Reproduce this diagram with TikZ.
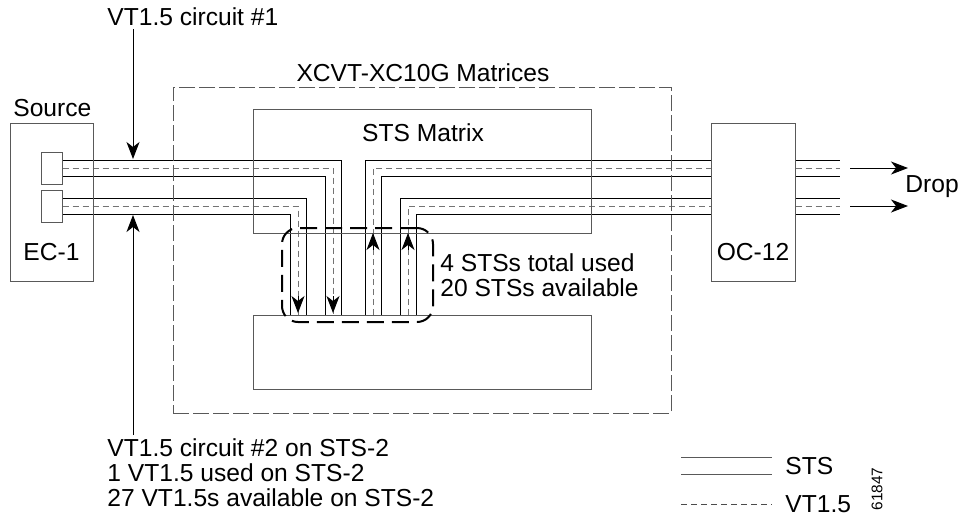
\documentclass[tikz,border=0pt]{standalone}
\usepackage{fontspec}
\setmainfont{Liberation Sans}
\usetikzlibrary{positioning, arrows.meta, backgrounds}

\definecolor{boxgray}{gray}{0.35}
\definecolor{vtgray}{gray}{0.45}

\tikzset{
  box/.style={draw=boxgray, line width=0.5pt, inner sep=0pt},
  txt/.style={inner sep=0pt, font=\fontsize{12.3}{12.4}\selectfont},
  sts/.style={draw=black, line width=0.5pt, double=white, double distance=7.5pt},
  vt/.style={draw=vtgray, line width=0.5pt, dash pattern=on 3pt off 2pt},
  tip/.style={-{Stealth[length=8.5pt,width=6.5pt,inset=2.5pt]}, line width=0.5pt, black},
}

\begin{document}
\begin{tikzpicture}[x=0.5pt, y=-0.5pt]
    \useasboundingbox (0,0) rectangle (958,516);

    % boxes
    \node[box, minimum width=41.5pt, minimum height=79pt] (ec1) at (51.5,202) {};
    \node[box, fill=white, minimum width=10.5pt, minimum height=16pt] (p1) at (51.5,168) {};
    \node[box, fill=white, minimum width=10.5pt, minimum height=16pt] (p2) at (51.5,206) {};
    \node[box, dash pattern=on 8pt off 2pt, minimum width=249pt, minimum height=163pt] (xc) at (422,250) {};
    \node[box, minimum width=169pt, minimum height=62pt] (sts) at (422,171) {};
    \node[box, minimum width=169pt, minimum height=37pt] (low) at (422,352) {};
    \node[box, minimum width=42pt, minimum height=79pt] (oc12) at (753,202) {};
    \node[draw, line width=1pt, dash pattern=on 8.5pt off 4pt, rounded corners=8pt,
          minimum width=75.5pt, minimum height=47pt] (grp) at (357.5,275) {};

    % texts
    \node[txt, anchor=west] (vt1) at (107,17) {VT1.5 circuit \#1};
    \node[txt] (title) at (423,73) {XCVT-XC10G Matrices};
    \node[txt, anchor=west] (src) at (13,108) {Source};
    \node[txt, above=10pt of ec1.south] (ec1lbl) {EC-1};
    \node[txt] (stslbl) at (423,133) {STS Matrix};
    \node[txt, above=10pt of oc12.south] (oclbl) {OC-12};
    \node[txt, anchor=west] (drop) at (905,187) {Drop};
    \node[txt, align=left, right=3pt of grp] (used) {4 STSs total used\\[0.2pt]20 STSs available};
    \node[txt, align=left, anchor=west] (vt2) at (107,472.5)
        {VT1.5 circuit \#2 on STS-2\\1 VT1.5 used on STS-2\\27 VT1.5s available on STS-2};
    \node[txt, anchor=west] (lgsts) at (785,466) {STS};
    \node[txt, anchor=west] (lgvt) at (785,504) {VT1.5};
    \node[inner sep=0pt, rotate=90, font=\fontsize{7.7}{9}\selectfont] (fignum) at (877,489) {61847};

    % turning points and free ends
    \coordinate (d1) at (333,315);
    \coordinate (d2) at (298,315);
    \coordinate (u1) at (373,315);
    \coordinate (u2) at (408,315);
    \coordinate (o1) at (840,168);
    \coordinate (o2) at (840,206);

    % channels
    \begin{scope}[on background layer]
        \draw[sts] (p1.east) -| (d1);
        \draw[sts] (p2.east) -| (d2);
        \draw[sts] (u1) |- (p1 -| oc12.west);
        \draw[sts] (u2) |- (p2 -| oc12.west);
        \draw[sts] (oc12.east |- p1) -- (o1);
        \draw[sts] (oc12.east |- p2) -- (o2);
        \draw[vt] (p1.east) -| (d1);
        \draw[vt] (p2.east) -| (d2);
        \draw[vt] (u1) |- (p1 -| oc12.west);
        \draw[vt] (u2) |- (p2 -| oc12.west);
        \draw[vt] (oc12.east |- p1) -- (o1);
        \draw[vt] (oc12.east |- p2) -- (o2);
    \end{scope}

    % arrow heads on the circuits
    \draw[tip] (333,296) -- (333,313);
    \draw[tip] (298,296) -- (298,313);
    \draw[tip] (373,250) -- (373,233);
    \draw[tip] (408,250) -- (408,233);

    % drop arrows
    \coordinate (dr1) at (850,168);
    \coordinate (dr2) at (850,206);
    \draw[tip] (dr1) -- ++(58,0);
    \draw[tip] (dr2) -- ++(58,0);

    % circuit pointers
    \coordinate (a1) at (133,29);
    \coordinate (a1e) at (133,159);
    \coordinate (a2) at (133,435);
    \coordinate (a2e) at (133,215);
    \draw[tip] (a1) -- (a1e);
    \draw[tip] (a2) -- (a2e);

    % legend
    \coordinate (ls1) at (681,465.5);
    \coordinate (ls2) at (772,465.5);
    \coordinate (lv1) at (681,504);
    \coordinate (lv2) at (772,504);
    \draw[sts, draw=boxgray, double distance=8pt] (ls1) -- (ls2);
    \draw[vt, draw=black!70] (lv1) -- (lv2);
\end{tikzpicture}
\end{document}
